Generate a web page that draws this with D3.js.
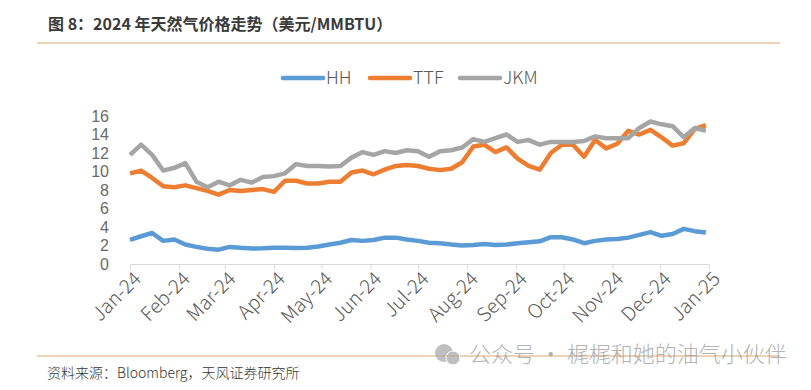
<!DOCTYPE html>
<html>
<head>
<meta charset="utf-8">
<script src="https://cdn.jsdelivr.net/npm/d3@7"></script>
<style>
  body { margin: 0; background: #fff; }
  svg text { font-family: "Noto Sans CJK SC", "Noto Sans", sans-serif; }
</style>
</head>
<body>
<div id="chart"></div>
<script>
// weekly prices, USD/MMBTU, first week of Jan 2024 to first week of Jan 2025
var seriesNames = ["HH", "TTF", "JKM"];
var seriesColors = ["#5b9bd5", "#ed7d31", "#a5a5a5"];

var hh = [2.6, 3.0, 3.35, 2.5, 2.65, 2.1, 1.85, 1.65, 1.55, 1.85, 1.75, 1.68, 1.7, 1.76, 1.76, 1.74, 1.76, 1.9,
  2.1, 2.3, 2.6, 2.5, 2.6, 2.85, 2.85, 2.65, 2.5, 2.3, 2.25, 2.1, 2.0, 2.05, 2.15, 2.05, 2.1, 2.25, 2.35, 2.45,
  2.9, 2.9, 2.65, 2.25, 2.5, 2.65, 2.7, 2.85, 3.15, 3.45, 3.05, 3.25, 3.8, 3.55, 3.4];
var ttf = [9.8, 10.1, 9.3, 8.4, 8.3, 8.5, 8.2, 7.9, 7.5, 8.0, 7.9, 8.0, 8.1, 7.8, 9.0, 9.0, 8.7, 8.7,
  8.9, 8.9, 9.9, 10.1, 9.7, 10.2, 10.6, 10.7, 10.6, 10.3, 10.15, 10.3, 11.0, 12.7, 12.9, 12.1, 12.6, 11.4, 10.6, 10.2,
  12.0, 12.9, 12.9, 11.6, 13.4, 12.5, 13.0, 14.4, 14.0, 14.5, 13.7, 12.8, 13.05, 14.6, 15.0];
var jkm = [11.8, 12.9, 11.8, 10.1, 10.4, 10.9, 8.9, 8.3, 8.9, 8.5, 9.1, 8.8, 9.4, 9.5, 9.8, 10.8, 10.6, 10.6,
  10.55, 10.6, 11.5, 12.1, 11.8, 12.2, 12.0, 12.3, 12.2, 11.6, 12.2, 12.3, 12.6, 13.5, 13.2, 13.6, 14.0, 13.2, 13.4, 12.9,
  13.2, 13.2, 13.2, 13.3, 13.8, 13.6, 13.6, 13.6, 14.7, 15.4, 15.1, 14.9, 13.7, 14.7, 14.4];
var yTicks = [0, 2, 4, 6, 8, 10, 12, 14, 16];
var startDate = new Date(2024, 0, 1);
var endDate = new Date(2025, 0, 1);

var width = 811, height = 390;
var svg = d3.select("#chart").append("svg")
  .attr("width", width).attr("height", height);

// title + rule
svg.append("text")
  .attr("x", 48).attr("y", 30)
  .attr("font-size", 16).attr("font-weight", "bold")
  .attr("fill", "#3a3a3a")
  .text("图 8：2024 年天然气价格走势（美元/MMBTU）");
svg.append("line")
  .attr("x1", 37).attr("x2", 780).attr("y1", 43).attr("y2", 43)
  .attr("stroke", "#d9a66e").attr("stroke-width", 1.2);

var x = d3.scaleTime().domain([startDate, endDate]).range([130, 709]);
var y = d3.scaleLinear().domain([0, 16]).range([264, 116]);

var dates = hh.map(function (d, i) { return d3.timeDay.offset(startDate, i * 7); });

// y axis labels (tight spacing, so a font with a short line box)
svg.append("g").selectAll("text")
  .data(yTicks).enter().append("text")
  .attr("x", 109).attr("y", function (d) { return y(d); })
  .attr("dy", "0.36em")
  .attr("text-anchor", "end")
  .style("font-family", "'Liberation Sans', sans-serif")
  .attr("font-size", 16)
  .attr("fill", "#6a6a6a")
  .text(function (d) { return d; });

// x axis
var xAxis = d3.axisBottom(x)
  .tickValues(d3.timeMonth.range(startDate, d3.timeDay.offset(endDate, 1)))
  .tickFormat(d3.timeFormat("%b-%y"))
  .tickSizeInner(5).tickSizeOuter(0);
var gx = svg.append("g").attr("transform", "translate(0,264)").call(xAxis);
gx.select(".domain").attr("stroke", "#d9d9d9").attr("stroke-width", 1);
gx.selectAll(".tick line").attr("stroke", "#d9d9d9");
gx.selectAll(".tick text")
  .attr("font-size", 19.5).attr("font-weight", 300)
  .attr("fill", "#595959")
  .attr("text-anchor", "end")
  .attr("transform", "rotate(-45)")
  .attr("x", -3).attr("y", 8).attr("dy", "0.6em");

// lines
var allSeries = [hh, ttf, jkm];
var line = d3.line()
  .x(function (d, i) { return x(dates[i]); })
  .y(function (d) { return y(d); });
allSeries.forEach(function (s, k) {
  svg.append("path")
    .datum(s)
    .attr("fill", "none")
    .attr("stroke", seriesColors[k])
    .attr("stroke-width", 4.5)
    .attr("stroke-linejoin", "round")
    .attr("d", line);
});

// legend
var legendX = [283, 370, 460];
var lg = svg.append("g");
seriesNames.forEach(function (n, k) {
  lg.append("line")
    .attr("x1", legendX[k]).attr("x2", legendX[k] + 40)
    .attr("y1", 78).attr("y2", 78)
    .attr("stroke", seriesColors[k]).attr("stroke-width", 4.5)
    .attr("stroke-linecap", "round");
  lg.append("text")
    .attr("x", legendX[k] + 43).attr("y", 78).attr("dy", "0.36em")
    .attr("font-size", 18).attr("font-weight", 300)
    .attr("fill", "#595959")
    .text(n);
});

// bottom rule + source
svg.append("line")
  .attr("x1", 37).attr("x2", 780).attr("y1", 356).attr("y2", 356)
  .attr("stroke", "#d9a66e").attr("stroke-width", 1.2);
svg.append("text")
  .attr("x", 47).attr("y", 378)
  .attr("font-size", 14).attr("font-weight", 300)
  .attr("fill", "#333")
  .text("资料来源：Bloomberg，天风证券研究所");

// watermark
var wm = svg.append("g").attr("opacity", 0.75);
wm.append("circle").attr("cx", 444).attr("cy", 353).attr("r", 9).attr("fill", "#aaa");
wm.append("circle").attr("cx", 453).attr("cy", 358).attr("r", 7).attr("fill", "#aaa")
  .attr("stroke", "#fff").attr("stroke-width", 1);
wm.append("text")
  .attr("x", 469).attr("y", 354).attr("dy", "0.36em")
  .attr("font-size", 22).attr("font-weight", 300)
  .attr("fill", "#999")
  .text("公众号 · 梶梶和她的油气小伙伴");
</script>
</body>
</html>
